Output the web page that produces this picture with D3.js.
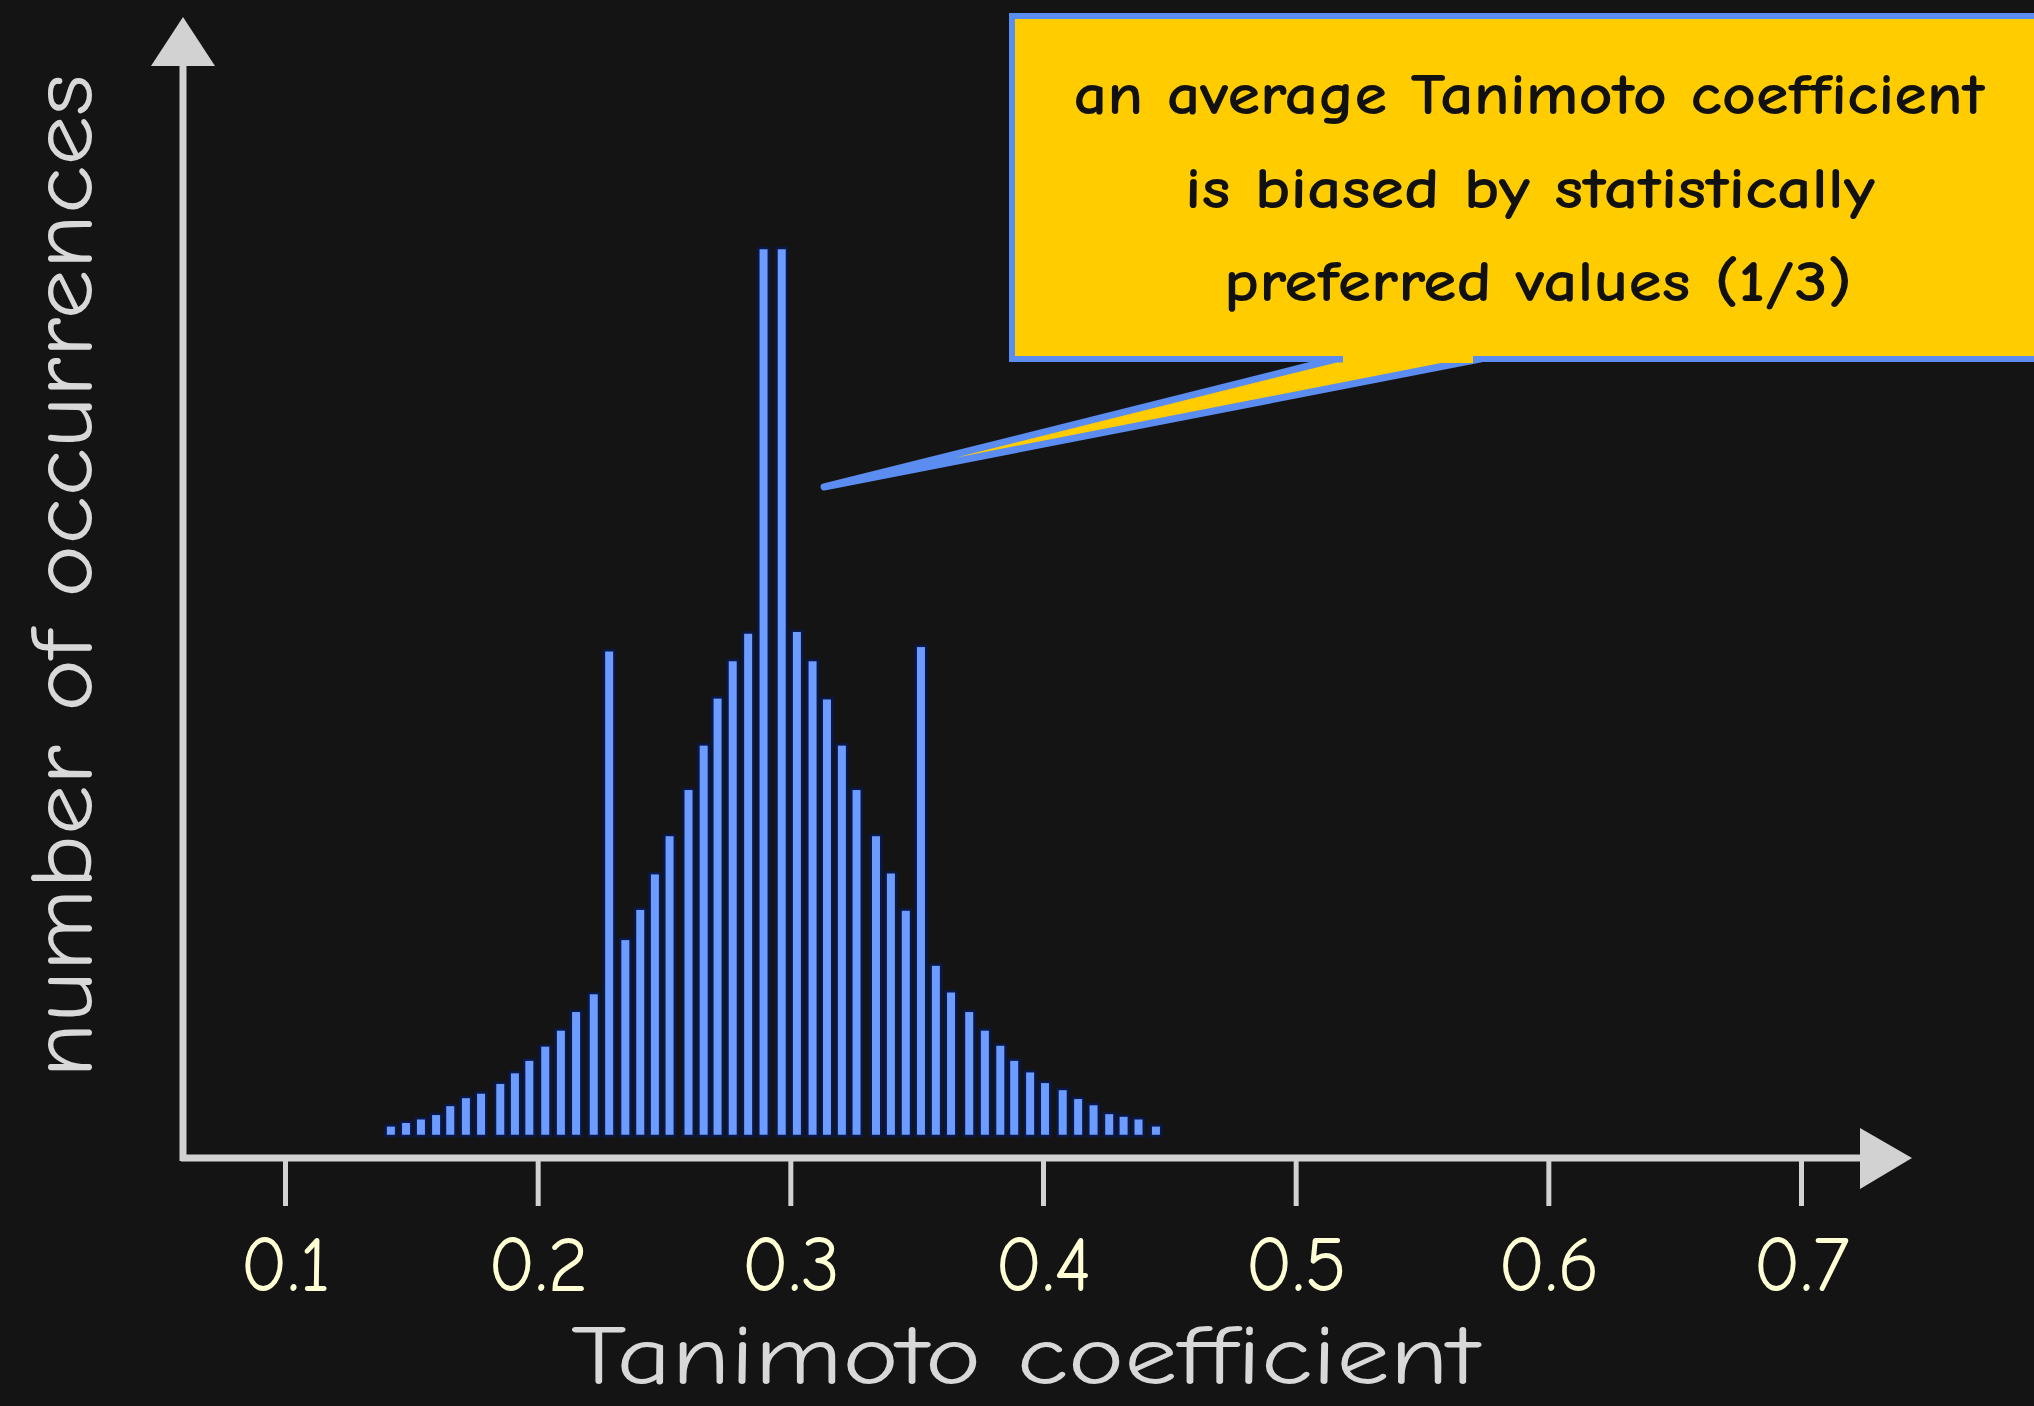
<!DOCTYPE html>
<html>
<head>
<meta charset="utf-8">
<script src="https://cdn.jsdelivr.net/npm/d3@7"></script>
<style>
  html, body { margin: 0; padding: 0; background: #141414; }
  svg { display: block; }
</style>
</head>
<body>
<svg id="chart" width="2034" height="1406"></svg>
<script>
// ---- data ----
const tanimoto = [0.1419,0.1479,0.1538,0.1598,0.1654,0.1716,0.1776,0.1852,0.1910,0.1967,
                  0.2030,0.2092,0.2152,0.2222,0.2283,0.2347,0.2406,0.2464,0.2522,0.2597,
                  0.2657,0.2712,0.2772,0.2833,0.2894,0.2966,0.3026,0.3088,0.3145,0.3204,
                  0.3262,0.3339,0.3398,0.3457,0.3517,0.3576,0.3636,0.3708,0.3770,0.3831,
                  0.3886,0.3949,0.4008,0.4078,0.4139,0.4200,0.4262,0.4319,0.4378,0.4447];
const occurrences = [12,16,20,25,35,44,49,60,72,86,
                     102,120,141,161,547,222,256,296,339,391,
                     441,494,536,567,1000,1000,569,536,493,441,
                     391,339,297,255,552,193,163,141,120,103,
                     86,73,61,53,43,36,26,23,20,12];
const tickValues = [0.1,0.2,0.3,0.4,0.5,0.6,0.7];
const tickLabels = ["0.1","0.2","0.3","0.4","0.5","0.6","0.7"];
const xTitle = "Tanimoto coefficient";
const yTitle = "number of occurrences";
const calloutLines = ["an average Tanimoto coefficient","is biased by statistically","preferred values (1/3)"];

// ---- layout ----
const svg = d3.select("#chart");
const FONT = "'Comic Sans MS','Comic Neue',Lato,'DejaVu Sans',sans-serif";
const axisColor = "#d2d2d2";
const axisY = 1158, axisX = 183;

const x = d3.scaleLinear().domain([0.1, 0.7]).range([285, 1801]);
const y = d3.scaleLinear().domain([0, 1000]).range([1136, 248]);

svg.append("rect").attr("width", 2034).attr("height", 1406).attr("fill", "#141414");

// bars
const barW = 10.5;
svg.append("g").selectAll("rect").data(tanimoto).join("rect")
  .attr("x", d => x(d) - barW / 2)
  .attr("y", (d, i) => y(occurrences[i]))
  .attr("width", barW)
  .attr("height", (d, i) => y(0) - y(occurrences[i]))
  .attr("fill", "#6c9cff")
  .attr("stroke", "#0a1848")
  .attr("stroke-width", 2.5);

// x axis via d3.axisBottom
const xAxis = d3.axisBottom(x).tickValues(tickValues)
  .tickFormat((d, i) => tickLabels[i]).tickSize(48).tickPadding(30);
const gx = svg.append("g").attr("transform", `translate(0,${axisY})`).call(xAxis);
gx.select(".domain").remove();
gx.selectAll(".tick line").attr("stroke", axisColor).attr("stroke-width", 5);
gx.selectAll(".tick text").attr("fill", "#ffffd6").attr("font-size", 78)
  .attr("font-family", FONT).attr("dy", "0.71em");

// axis lines with arrowheads
svg.append("line").attr("x1", axisX - 2).attr("x2", 1862).attr("y1", axisY).attr("y2", axisY)
  .attr("stroke", axisColor).attr("stroke-width", 7);
svg.append("path").attr("d", `M1860,1128 L1912,${axisY} L1860,1189 Z`).attr("fill", axisColor);
svg.append("line").attr("x1", axisX).attr("x2", axisX).attr("y1", axisY + 3).attr("y2", 62)
  .attr("stroke", axisColor).attr("stroke-width", 7);
svg.append("path").attr("d", `M${axisX - 32},66 L${axisX},17 L${axisX + 32},66 Z`).attr("fill", axisColor);

// axis titles
svg.append("text").attr("x", 1025).attr("y", 1384).attr("text-anchor", "middle")
  .attr("font-family", FONT).attr("font-size", 84).attr("fill", "#d8d8d8")
  .attr("textLength", 908).attr("lengthAdjust", "spacingAndGlyphs").text(xTitle);
svg.append("text").attr("transform", "translate(92,576) rotate(-90)").attr("text-anchor", "middle")
  .attr("font-family", FONT).attr("font-size", 88).attr("fill", "#d8d8d8")
  .attr("textLength", 1004).attr("lengthAdjust", "spacingAndGlyphs").text(yTitle);

// callout
const yellow = "#ffcc00", blue = "#5b8cf0";
svg.append("path").attr("d", "M1336,359 L824,487 L1480,359 Z")
  .attr("fill", yellow).attr("stroke", blue).attr("stroke-width", 7).attr("stroke-linejoin", "round");
svg.append("rect").attr("x", 1012).attr("y", 16).attr("width", 1100).attr("height", 343)
  .attr("fill", yellow).attr("stroke", blue).attr("stroke-width", 6);
svg.append("line").attr("x1", 1343).attr("x2", 1473).attr("y1", 359).attr("y2", 359)
  .attr("stroke", yellow).attr("stroke-width", 8);

const lineY = [114, 208, 301];
const lineW = [911, 690, 628];
const lineCx = [1529, 1530, 1538];
svg.append("g").selectAll("text").data(calloutLines).join("text")
  .attr("x", (d, i) => lineCx[i]).attr("y", (d, i) => lineY[i])
  .attr("text-anchor", "middle").attr("font-family", FONT).attr("font-size", 58)
  .attr("font-weight", 700)
  .attr("fill", "#111").attr("textLength", (d, i) => lineW[i])
  .attr("lengthAdjust", "spacingAndGlyphs").text(d => d);
</script>
</body>
</html>
